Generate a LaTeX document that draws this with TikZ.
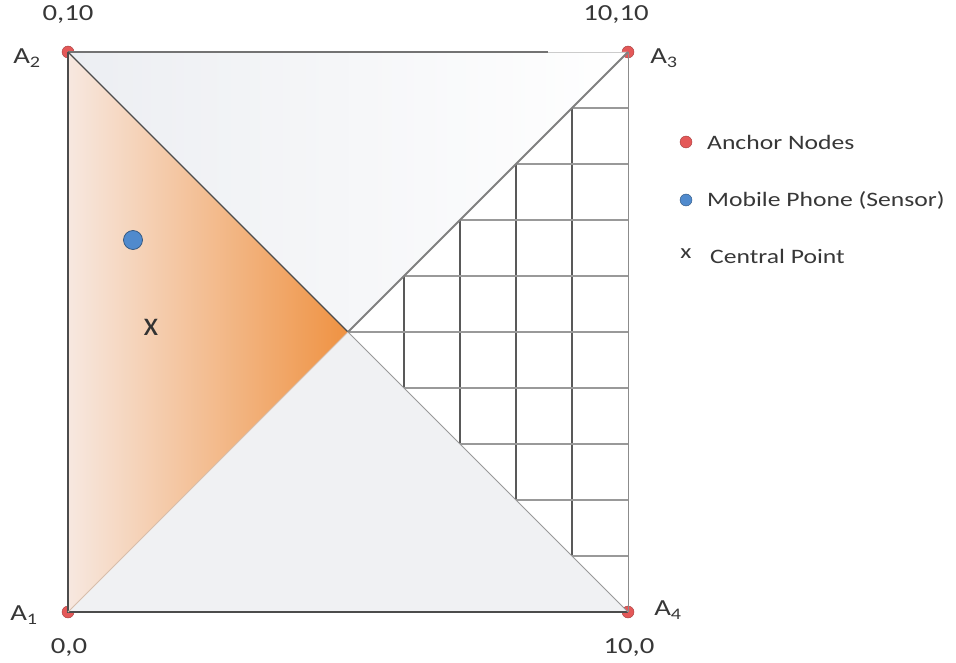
\documentclass[tikz,border=0pt]{standalone}
\usepackage{fontspec}
\setmainfont{Carlito}[FakeStretch=1.25]
\newfontfamily\plainfont{Carlito}
\definecolor{peach}{RGB}{247,232,224}
\definecolor{orng}{RGB}{239,146,66}
\definecolor{anchred}{RGB}{228,88,88}
\definecolor{phoneblue}{RGB}{80,138,205}
\definecolor{txtgray}{RGB}{55,55,55}
\definecolor{topgray}{RGB}{236,238,242}
\definecolor{botgray}{RGB}{240,241,243}
\begin{document}
\begin{tikzpicture}[x=1pt,y=-1pt,
  anchordot/.style={circle,inner sep=0pt,minimum size=12pt,fill=anchred,draw=anchred!70!black,line width=0.4pt},
  phonedot/.style={circle,inner sep=0pt,minimum size=19pt,fill=phoneblue,draw=phoneblue!60!black,line width=0.7pt},
  lbl/.style={text=txtgray,font=\fontsize{23}{25}\selectfont,inner sep=0pt},
  leg/.style={text=txtgray,font=\fontsize{20.5}{22}\selectfont,inner sep=0pt,anchor=west},
  gridline/.style={draw=black!65,line width=1.1pt},
  edge/.style={draw=black!70,line width=1.6pt}]
\useasboundingbox (0,0) rectangle (956,663);
\coordinate (A1) at (68,612);
\coordinate (A2) at (68,52);
\coordinate (A3) at (628,52);
\coordinate (A4) at (628,612);
\coordinate (C) at (348,332);
% anchor dots (under the square)
\node[anchordot] (n1) at (A1) {};
\node[anchordot] (n2) at (A2) {};
\node[anchordot] (n3) at (A3) {};
\node[anchordot] (n4) at (A4) {};
% regions
\shade[left color=topgray, right color=white] (A2) -- (A3) -- (C) -- cycle;
\fill[botgray] (A1) -- (A4) -- (C) -- cycle;
\shade[left color=peach, right color=orng] (A1) -- (A2) -- (C) -- cycle;
% grid in right triangle
\foreach \k in {1,...,4}{
  \draw[gridline] (348+56*\k,332-56*\k) -- (348+56*\k,332+56*\k);
}
\foreach \k in {-4,...,4}{
  \pgfmathsetmacro{\ax}{348+56*abs(\k)}
  \draw[gridline,draw=black!40] (\ax,332+56*\k) -- (628,332+56*\k);
}
% edges
\draw[edge] (A2) -- (A1) -- (A4);
\draw[edge,draw=black!55,line width=1.3pt] (A2) -- (548,52);
\draw[draw=black!20,line width=0.8pt] (548,52) -- (A3);
\draw[draw=black!45,line width=1pt] (A3) -- (A4);
% diagonals
\draw[draw=black!70,line width=1.2pt] (A2) -- (C);
\draw[draw=black!40,line width=0.8pt] (C) -- (A4);
\draw[draw={rgb,255:red,215;green,190;blue,172},line width=1pt] (A1) -- (C);
\draw[draw=black!50,line width=2pt] (C) -- (A3);
% sensor and central point
\node[phonedot] (phone) at (133,240) {};
\node[lbl,font=\plainfont\fontsize{34}{36}\selectfont,text=black!80] (cp) at (151,327) {x};
% corner labels
\node[lbl] (c2) at (68,15) {0,10};
\node[lbl] (c3) at (616,15) {10,10};
\node[lbl] (c1) at (69,648) {0,0};
\node[lbl] (c4) at (629,648) {10,0};
\node[lbl] (a2) at (27,58) {A\textsubscript{2}};
\node[lbl] (a3) at (664,58) {A\textsubscript{3}};
\node[lbl] (a1) at (24,615) {A\textsubscript{1}};
\node[lbl] (a4) at (668,610) {A\textsubscript{4}};
% legend
\node[anchordot] (l1) at (686,142) {};
\node[leg] (t1) at (707,142) {Anchor Nodes};
\node[anchordot,fill=phoneblue,draw=phoneblue!60!black] (l2) at (686,200) {};
\node[leg] (t2) at (707,200) {Mobile Phone (Sensor)};
\node[leg,anchor=center] (l3) at (686,254) {x};
\node[leg] (t3) at (710,256) {Central Point};
\end{tikzpicture}
\end{document}
